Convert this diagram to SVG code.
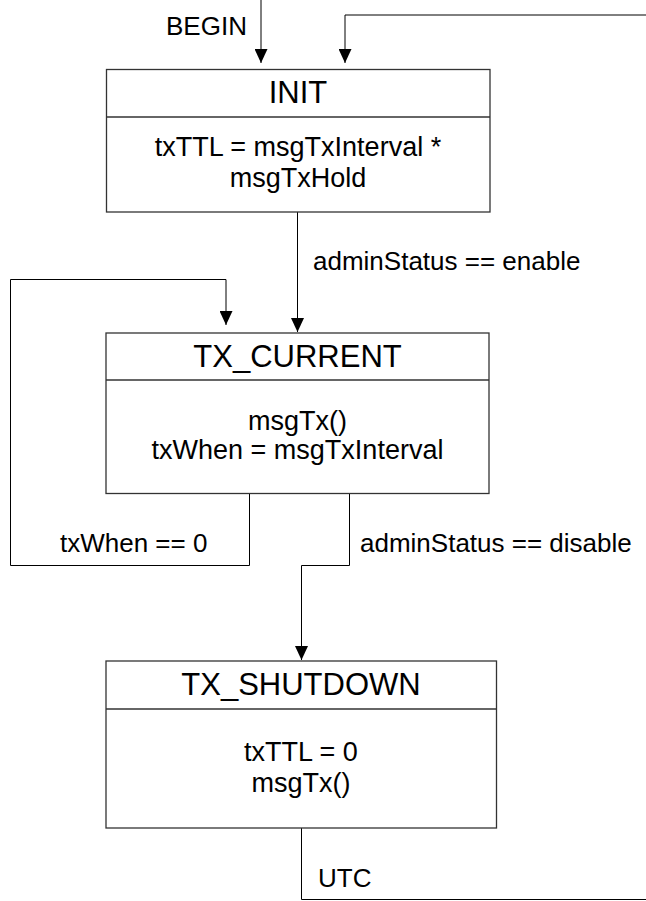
<svg xmlns="http://www.w3.org/2000/svg" width="646" height="901" viewBox="0 0 646 901">
  <defs>
    <marker id="arrow" viewBox="0 0 14 13" refX="14" refY="6.5" markerWidth="14" markerHeight="13" markerUnits="userSpaceOnUse" orient="auto">
      <path d="M0,0 L14,6.5 L0,13 Z" fill="#000"/>
    </marker>
    <style>
      text { font-family: "Liberation Sans", Arial, sans-serif; fill: #000; }
      .title { font-size: 31px; text-anchor: middle; }
      .body { font-size: 27px; text-anchor: middle; }
      .label { font-size: 26px; }
      .box { fill: #fff; stroke: #333; stroke-width: 1.3; }
      .sep { stroke: #333; stroke-width: 1.3; }
      .wire { fill: none; stroke: #000; stroke-width: 1; }
      .wire.arrow { marker-end: url(#arrow); }
    </style>
  </defs>
  <rect width="646" height="901" fill="#fff"/>

  <!-- transitions -->
  <g id="connectors">
    <path class="wire arrow" d="M261,0 V63"/>
    <path class="wire arrow" d="M646,15 H345 V63"/>
    <path class="wire arrow" d="M297.5,212 V332"/>
    <path class="wire arrow" d="M249.5,493 V565.5 H10.5 V279.5 H226 V325"/>
    <path class="wire arrow" d="M349.5,493 V565.5 H301.5 V660"/>
    <path class="wire" d="M301.5,828 V899.5 H646"/>
    <text class="label" x="166" y="35">BEGIN</text>
    <text class="label" x="313" y="270">adminStatus == enable</text>
    <text class="label" x="60" y="552">txWhen == 0</text>
    <text class="label" x="360" y="552">adminStatus == disable</text>
    <text class="label" x="318" y="887">UTC</text>
  </g>

  <!-- states -->
  <g id="init">
    <rect class="box" x="106.5" y="69.5" width="383.5" height="142.5"/>
    <line class="sep" x1="106.5" y1="117" x2="490" y2="117"/>
    <text class="title" x="298" y="103">INIT</text>
    <text class="body" x="298" y="156">txTTL = msgTxInterval *</text>
    <text class="body" x="298" y="187">msgTxHold</text>
  </g>

  <g id="tx_current">
    <rect class="box" x="106" y="333" width="383" height="160.5"/>
    <line class="sep" x1="106" y1="380" x2="489" y2="380"/>
    <text class="title" x="297.5" y="367">TX_CURRENT</text>
    <text class="body" x="297.5" y="430">msgTx()</text>
    <text class="body" x="297.5" y="459">txWhen = msgTxInterval</text>
  </g>

  <g id="tx_shutdown">
    <rect class="box" x="106" y="661" width="390.5" height="167"/>
    <line class="sep" x1="106" y1="709" x2="496.5" y2="709"/>
    <text class="title" x="301" y="695">TX_SHUTDOWN</text>
    <text class="body" x="301" y="761">txTTL = 0</text>
    <text class="body" x="301" y="792">msgTx()</text>
  </g>
</svg>
